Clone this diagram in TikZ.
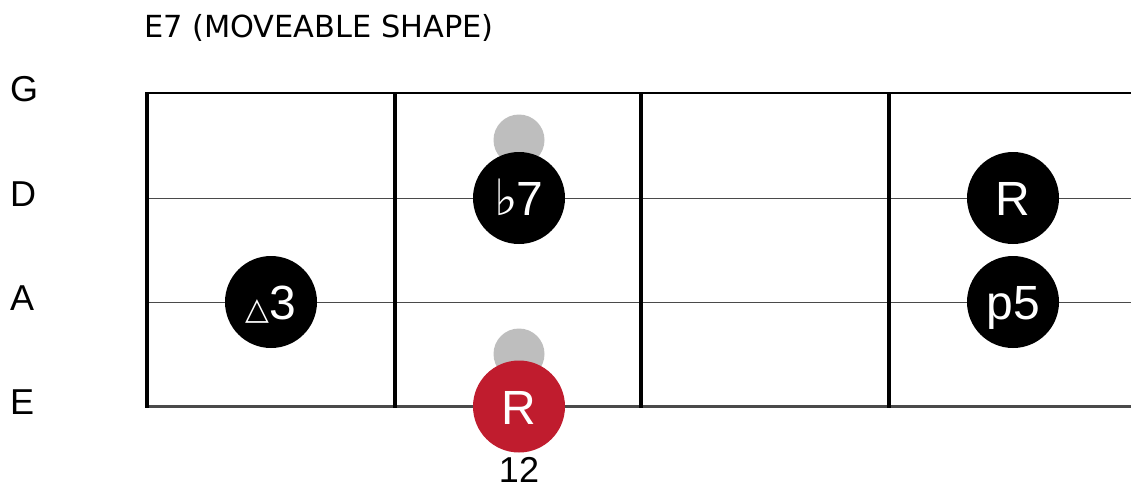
\documentclass[tikz,border=0pt]{standalone}
\usepackage{fontspec}
\setmainfont{Liberation Sans}
\newfontfamily\dejavu{DejaVu Sans}
\definecolor{rootred}{HTML}{C01C2E}
\definecolor{ghostgray}{HTML}{BEBEBE}
\definecolor{linegray}{HTML}{4A4A4A}
\tikzset{
  strline/.style={line width=1pt, draw=linegray},
  fretline/.style={line width=4pt, draw=black},
  dot/.style={circle, fill=black, text=white, minimum size=92pt, inner sep=0pt,
    font=\fontsize{48}{48}\selectfont, text height=35pt, text depth=0pt},
  rootdot/.style={dot, fill=rootred},
  ghost/.style={circle, fill=ghostgray, minimum size=51pt, inner sep=0pt},
  strlabel/.style={anchor=base west, inner sep=0pt, font=\fontsize{36}{36}\selectfont},
}
\begin{document}
\begin{tikzpicture}[x=1pt,y=-1pt]
\useasboundingbox (0,0) rectangle (1131,483);
% title
\node[anchor=base west, inner sep=0pt, font=\dejavu\fontsize{30.4}{31}\selectfont] (title) at (144,37) {E7 (MOVEABLE SHAPE)};
% string labels
\node[strlabel] (lG) at (10,101.5) {G};
\node[strlabel] (lD) at (10,206) {D};
\node[strlabel] (lA) at (10,310.5) {A};
\node[strlabel] (lE) at (10,414.5) {E};
% strings
\coordinate (G0) at (147,93);  \coordinate (G1) at (1131,93);
\coordinate (D0) at (147,198); \coordinate (D1) at (1131,198);
\coordinate (A0) at (147,302); \coordinate (A1) at (1131,302);
\coordinate (E0) at (147,406.5); \coordinate (E1) at (1131,406.5);
\draw[strline, line width=1.5pt, draw=black] (G0) -- (G1);
\draw[strline] (D0) -- (D1);
\draw[strline] (A0) -- (A1);
\draw[strline, line width=3pt] (E0) -- (E1);
% frets
\foreach \i/\x in {1/147,2/395,3/641,4/889}{
  \coordinate (f\i t) at (\x,92);
  \coordinate (f\i b) at (\x,408);
  \draw[fretline] (f\i t) -- (f\i b);
}
% ghost notes
\node[ghost] (gh1) at (519,140) {};
\node[ghost] (gh2) at (519,354) {};
% notes
\node[dot] (n7) at (519,198) {{\dejavu\fontsize{50}{50}\selectfont ♭}\kern-2pt 7};
\node[dot] (n3) at (271,302) {{\dejavu\fontsize{31}{31}\selectfont △}\kern0pt 3};
\node[rootdot] (nR) at (519,406.5) {R};
\node[dot] (nR2) at (1013,198) {R};
\node[dot] (n5) at (1013,302) {p5};
% fret number
\node[anchor=base, inner sep=0pt, font=\fontsize{36}{36}\selectfont] (fn) at (519,482) {12};
\end{tikzpicture}
\end{document}
